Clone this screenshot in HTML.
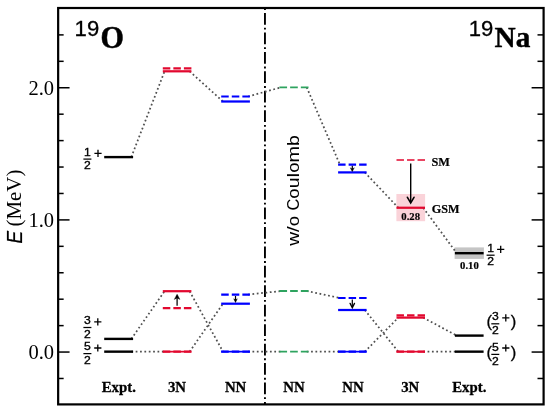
<!DOCTYPE html>
<html><head><meta charset="utf-8"><title>Level scheme</title>
<style>
html,body{margin:0;padding:0;background:#fff;}
body{width:550px;height:410px;overflow:hidden;font-family:"Liberation Sans",sans-serif;}
svg{display:block;will-change:transform;}
text{fill:#000;}
</style></head><body>
<svg width="550" height="410" viewBox="0 0 550 410">
<rect x="0" y="0" width="550" height="410" fill="#fff"/>
<rect x="58.15" y="8.0" width="485.45000000000005" height="396.4" fill="none" stroke="#000" stroke-width="2.2"/>
<line x1="58.15" y1="378.48" x2="63.65" y2="378.48" stroke="#000" stroke-width="1.5"/>
<line x1="543.6" y1="378.48" x2="537.5" y2="378.48" stroke="#000" stroke-width="1.5"/>
<line x1="58.15" y1="352.05" x2="69.55" y2="352.05" stroke="#000" stroke-width="1.5"/>
<line x1="543.6" y1="352.05" x2="531.6" y2="352.05" stroke="#000" stroke-width="1.5"/>
<line x1="58.15" y1="325.62" x2="63.65" y2="325.62" stroke="#000" stroke-width="1.5"/>
<line x1="543.6" y1="325.62" x2="537.5" y2="325.62" stroke="#000" stroke-width="1.5"/>
<line x1="58.15" y1="299.19" x2="63.65" y2="299.19" stroke="#000" stroke-width="1.5"/>
<line x1="543.6" y1="299.19" x2="537.5" y2="299.19" stroke="#000" stroke-width="1.5"/>
<line x1="58.15" y1="272.76" x2="63.65" y2="272.76" stroke="#000" stroke-width="1.5"/>
<line x1="543.6" y1="272.76" x2="537.5" y2="272.76" stroke="#000" stroke-width="1.5"/>
<line x1="58.15" y1="246.33" x2="63.65" y2="246.33" stroke="#000" stroke-width="1.5"/>
<line x1="543.6" y1="246.33" x2="537.5" y2="246.33" stroke="#000" stroke-width="1.5"/>
<line x1="58.15" y1="219.90" x2="69.55" y2="219.90" stroke="#000" stroke-width="1.5"/>
<line x1="543.6" y1="219.90" x2="531.6" y2="219.90" stroke="#000" stroke-width="1.5"/>
<line x1="58.15" y1="193.47" x2="63.65" y2="193.47" stroke="#000" stroke-width="1.5"/>
<line x1="543.6" y1="193.47" x2="537.5" y2="193.47" stroke="#000" stroke-width="1.5"/>
<line x1="58.15" y1="167.04" x2="63.65" y2="167.04" stroke="#000" stroke-width="1.5"/>
<line x1="543.6" y1="167.04" x2="537.5" y2="167.04" stroke="#000" stroke-width="1.5"/>
<line x1="58.15" y1="140.61" x2="63.65" y2="140.61" stroke="#000" stroke-width="1.5"/>
<line x1="543.6" y1="140.61" x2="537.5" y2="140.61" stroke="#000" stroke-width="1.5"/>
<line x1="58.15" y1="114.18" x2="63.65" y2="114.18" stroke="#000" stroke-width="1.5"/>
<line x1="543.6" y1="114.18" x2="537.5" y2="114.18" stroke="#000" stroke-width="1.5"/>
<line x1="58.15" y1="87.75" x2="69.55" y2="87.75" stroke="#000" stroke-width="1.5"/>
<line x1="543.6" y1="87.75" x2="531.6" y2="87.75" stroke="#000" stroke-width="1.5"/>
<line x1="58.15" y1="61.32" x2="63.65" y2="61.32" stroke="#000" stroke-width="1.5"/>
<line x1="543.6" y1="61.32" x2="537.5" y2="61.32" stroke="#000" stroke-width="1.5"/>
<line x1="58.15" y1="34.89" x2="63.65" y2="34.89" stroke="#000" stroke-width="1.5"/>
<line x1="543.6" y1="34.89" x2="537.5" y2="34.89" stroke="#000" stroke-width="1.5"/>
<text x="54" y="359.15" text-anchor="end" font-family="Liberation Serif" font-size="20.5">0.0</text>
<text x="54" y="227.00" text-anchor="end" font-family="Liberation Serif" font-size="20.5">1.0</text>
<text x="54" y="94.85" text-anchor="end" font-family="Liberation Serif" font-size="20.5">2.0</text>
<text transform="translate(21.9,243.4) rotate(-90) scale(0.87,1)" x="0" y="0" font-family="Liberation Sans" font-style="italic" font-size="21.7" stroke="#000" stroke-width="0.2">E</text>
<text transform="translate(21.4,226.5) rotate(-90)" x="0" y="0" font-family="Liberation Serif" font-size="20.9">(MeV)</text>
<line x1="264.95" y1="8.0" x2="264.95" y2="404.4" stroke="#000" stroke-width="1.9" stroke-dasharray="11.74 2.93 1.84 2.94" stroke-dashoffset="14.43"/>
<g transform="translate(298.8,245.8) rotate(-90)"><text x="0.00" y="0" font-family="Liberation Sans" font-size="17.4" textLength="13.87" lengthAdjust="spacingAndGlyphs">w</text><text x="13.87" y="0" font-family="Liberation Sans" font-size="17.4" textLength="5.71" lengthAdjust="spacingAndGlyphs">/</text><text x="19.58" y="0" font-family="Liberation Sans" font-size="17.4" textLength="10.37" lengthAdjust="spacingAndGlyphs">o</text><text x="35.34" y="0" font-family="Liberation Sans" font-size="17.4" textLength="11.83" lengthAdjust="spacingAndGlyphs">C</text><text x="47.17" y="0" font-family="Liberation Sans" font-size="17.4" textLength="10.37" lengthAdjust="spacingAndGlyphs">o</text><text x="57.55" y="0" font-family="Liberation Sans" font-size="17.4" textLength="10.75" lengthAdjust="spacingAndGlyphs">u</text><text x="68.29" y="0" font-family="Liberation Sans" font-size="17.4" textLength="4.71" lengthAdjust="spacingAndGlyphs">l</text><text x="73.00" y="0" font-family="Liberation Sans" font-size="17.4" textLength="10.37" lengthAdjust="spacingAndGlyphs">o</text><text x="83.38" y="0" font-family="Liberation Sans" font-size="17.4" textLength="16.51" lengthAdjust="spacingAndGlyphs">m</text><text x="99.89" y="0" font-family="Liberation Sans" font-size="17.4" textLength="10.76" lengthAdjust="spacingAndGlyphs">b</text></g>
<rect x="396.4" y="194.0" width="28.7" height="27.2" fill="#fad3d9"/>
<rect x="454.59999999999997" y="247.4" width="29.300000000000047" height="11.5" fill="#c5c5c5"/>
<line x1="131.30" y1="157.10" x2="164.60" y2="71.30" stroke="#505050" stroke-width="1.75" stroke-dasharray="1.75 2.506"/>
<line x1="189.60" y1="71.30" x2="223.00" y2="101.50" stroke="#505050" stroke-width="1.75" stroke-dasharray="1.75 2.559"/>
<line x1="248.10" y1="96.50" x2="281.20" y2="87.30" stroke="#505050" stroke-width="1.75" stroke-dasharray="1.75 2.608"/>
<line x1="306.70" y1="87.30" x2="339.90" y2="164.60" stroke="#505050" stroke-width="1.75" stroke-dasharray="1.75 2.509"/>
<line x1="364.80" y1="172.40" x2="398.30" y2="207.75" stroke="#505050" stroke-width="1.75" stroke-dasharray="1.75 2.549"/>
<line x1="423.20" y1="207.75" x2="456.70" y2="253.20" stroke="#505050" stroke-width="1.75" stroke-dasharray="1.75 2.534"/>
<line x1="131.30" y1="338.90" x2="164.60" y2="291.20" stroke="#505050" stroke-width="1.75" stroke-dasharray="1.75 2.530"/>
<line x1="189.60" y1="291.20" x2="223.00" y2="351.65" stroke="#505050" stroke-width="1.75" stroke-dasharray="1.75 2.519"/>
<line x1="189.60" y1="351.65" x2="223.00" y2="303.70" stroke="#505050" stroke-width="1.75" stroke-dasharray="1.75 2.530"/>
<line x1="248.10" y1="294.60" x2="281.20" y2="291.00" stroke="#505050" stroke-width="1.75" stroke-dasharray="1.75 2.616"/>
<line x1="306.70" y1="291.00" x2="339.90" y2="298.00" stroke="#505050" stroke-width="1.75" stroke-dasharray="1.75 2.612"/>
<line x1="364.80" y1="310.00" x2="398.30" y2="351.65" stroke="#505050" stroke-width="1.75" stroke-dasharray="1.75 2.539"/>
<line x1="364.80" y1="351.65" x2="398.30" y2="317.60" stroke="#505050" stroke-width="1.75" stroke-dasharray="1.75 2.551"/>
<line x1="423.20" y1="317.60" x2="456.70" y2="335.60" stroke="#505050" stroke-width="1.75" stroke-dasharray="1.75 2.588"/>
<line x1="131.30" y1="351.65" x2="164.60" y2="351.65" stroke="#505050" stroke-width="1.75" stroke-dasharray="1.75 2.617"/>
<line x1="248.10" y1="351.65" x2="281.20" y2="351.65" stroke="#505050" stroke-width="1.75" stroke-dasharray="1.75 2.617"/>
<line x1="306.70" y1="351.65" x2="339.90" y2="351.65" stroke="#505050" stroke-width="1.75" stroke-dasharray="1.75 2.617"/>
<line x1="423.20" y1="351.65" x2="456.70" y2="351.65" stroke="#505050" stroke-width="1.75" stroke-dasharray="1.75 2.617"/>
<line x1="104.2" y1="157.10" x2="133.1" y2="157.10" stroke="#000" stroke-width="2.4"/>
<line x1="104.2" y1="338.90" x2="133.1" y2="338.90" stroke="#000" stroke-width="2.4"/>
<line x1="104.2" y1="351.65" x2="133.1" y2="351.65" stroke="#000" stroke-width="2.4"/>
<line x1="454.9" y1="253.20" x2="483.6" y2="253.20" stroke="#000" stroke-width="2.4"/>
<line x1="454.9" y1="335.60" x2="483.6" y2="335.60" stroke="#000" stroke-width="2.4"/>
<line x1="454.9" y1="351.65" x2="483.6" y2="351.65" stroke="#000" stroke-width="2.4"/>
<line x1="162.8" y1="71.30" x2="191.4" y2="71.30" stroke="#e2082f" stroke-width="2.25"/>
<line x1="162.8" y1="68.40" x2="191.4" y2="68.40" stroke="#e2082f" stroke-width="2.2" stroke-dasharray="7.50 3.05"/>
<line x1="221.2" y1="101.50" x2="249.9" y2="101.50" stroke="#0000ff" stroke-width="2.25"/>
<line x1="221.2" y1="96.50" x2="249.9" y2="96.50" stroke="#0000ff" stroke-width="2.2" stroke-dasharray="7.53 3.05"/>
<line x1="279.4" y1="87.30" x2="308.5" y2="87.30" stroke="#2ea35f" stroke-width="1.85" stroke-dasharray="7.67 3.05"/>
<line x1="338.1" y1="164.60" x2="366.6" y2="164.60" stroke="#0000ff" stroke-width="2.2" stroke-dasharray="7.47 3.05"/>
<line x1="338.1" y1="172.40" x2="366.6" y2="172.40" stroke="#0000ff" stroke-width="2.25"/>
<line x1="396.5" y1="160.00" x2="425.0" y2="160.00" stroke="#e2082f" stroke-width="1.5" stroke-dasharray="7.47 3.05"/>
<line x1="396.5" y1="207.75" x2="425.0" y2="207.75" stroke="#e2082f" stroke-width="2.25"/>
<line x1="162.8" y1="291.20" x2="191.4" y2="291.20" stroke="#e2082f" stroke-width="2.25"/>
<line x1="162.8" y1="308.10" x2="191.4" y2="308.10" stroke="#e2082f" stroke-width="2.2" stroke-dasharray="7.50 3.05"/>
<line x1="221.2" y1="294.60" x2="249.9" y2="294.60" stroke="#0000ff" stroke-width="2.2" stroke-dasharray="7.53 3.05"/>
<line x1="221.2" y1="303.70" x2="249.9" y2="303.70" stroke="#0000ff" stroke-width="2.25"/>
<line x1="279.4" y1="291.00" x2="308.5" y2="291.00" stroke="#2ea35f" stroke-width="1.85" stroke-dasharray="7.67 3.05"/>
<line x1="338.1" y1="298.00" x2="366.6" y2="298.00" stroke="#0000ff" stroke-width="2.2" stroke-dasharray="7.47 3.05"/>
<line x1="338.1" y1="310.00" x2="366.6" y2="310.00" stroke="#0000ff" stroke-width="2.25"/>
<line x1="396.5" y1="317.60" x2="425.0" y2="317.60" stroke="#e2082f" stroke-width="2.25"/>
<line x1="396.5" y1="315.30" x2="425.0" y2="315.30" stroke="#e2082f" stroke-width="2.2" stroke-dasharray="7.47 3.05"/>
<line x1="279.4" y1="351.65" x2="308.5" y2="351.65" stroke="#2ea35f" stroke-width="1.85" stroke-dasharray="7.67 3.05"/>
<line x1="162.8" y1="351.65" x2="191.4" y2="351.65" stroke="#e2082f" stroke-width="1.7"/>
<line x1="162.8" y1="351.65" x2="191.4" y2="351.65" stroke="#e2082f" stroke-width="2.1" stroke-dasharray="7.50 3.05"/>
<line x1="221.2" y1="351.65" x2="249.9" y2="351.65" stroke="#0000ff" stroke-width="1.7"/>
<line x1="221.2" y1="351.65" x2="249.9" y2="351.65" stroke="#0000ff" stroke-width="2.1" stroke-dasharray="7.53 3.05"/>
<line x1="338.1" y1="351.65" x2="366.6" y2="351.65" stroke="#0000ff" stroke-width="1.7"/>
<line x1="338.1" y1="351.65" x2="366.6" y2="351.65" stroke="#0000ff" stroke-width="2.1" stroke-dasharray="7.47 3.05"/>
<line x1="396.5" y1="351.65" x2="425.0" y2="351.65" stroke="#e2082f" stroke-width="1.7"/>
<line x1="396.5" y1="351.65" x2="425.0" y2="351.65" stroke="#e2082f" stroke-width="2.1" stroke-dasharray="7.47 3.05"/>
<path d="M410.7 163.5 L410.7 202.1" fill="none" stroke="#000" stroke-width="1.4"/>
<path d="M407.4 197.3 L410.7 202.9 L414.0 197.3" fill="none" stroke="#000" stroke-width="1.60" stroke-linejoin="miter" stroke-linecap="round"/>
<path d="M177.1 305.8 L177.1 295.4" fill="none" stroke="#000" stroke-width="1.25"/>
<path d="M177.1 294.2 L174.29999999999998 299.4 L177.1 297.90 L179.9 299.4 Z" fill="#000" stroke="#000" stroke-width="0.4" stroke-linejoin="round"/>
<path d="M235.5 296.0 L235.5 301.3" fill="none" stroke="#000" stroke-width="1.2"/>
<path d="M235.5 302.5 L233.7 298.8 L235.5 299.85 L237.3 298.8 Z" fill="#000" stroke="#000" stroke-width="0.4" stroke-linejoin="round"/>
<path d="M352.3 299.6 L352.3 307.0" fill="none" stroke="#000" stroke-width="1.2"/>
<path d="M350.1 303.40000000000003 L352.3 307.8 L354.5 303.40000000000003" fill="none" stroke="#000" stroke-width="1.30" stroke-linejoin="miter" stroke-linecap="round"/>
<path d="M352.3 165.8 L352.3 170.4" fill="none" stroke="#000" stroke-width="1.2"/>
<path d="M352.3 171.6 L350.3 167.8 L352.3 168.88 L354.3 167.8 Z" fill="#000" stroke="#000" stroke-width="0.4" stroke-linejoin="round"/>
<text x="118.8" y="391.5" text-anchor="middle" font-family="Liberation Serif" font-weight="bold" font-size="14.8" stroke="#000" stroke-width="0.3" >Expt.</text>
<text x="177" y="391.5" text-anchor="middle" font-family="Liberation Serif" font-weight="bold" font-size="14.8" stroke="#000" stroke-width="0.3" >3N</text>
<text x="235.6" y="391.5" text-anchor="middle" font-family="Liberation Serif" font-weight="bold" font-size="14.8" stroke="#000" stroke-width="0.3" >NN</text>
<text x="294" y="391.5" text-anchor="middle" font-family="Liberation Serif" font-weight="bold" font-size="14.8" stroke="#000" stroke-width="0.3" >NN</text>
<text x="353" y="391.5" text-anchor="middle" font-family="Liberation Serif" font-weight="bold" font-size="14.8" stroke="#000" stroke-width="0.3" >NN</text>
<text x="410.2" y="391.5" text-anchor="middle" font-family="Liberation Serif" font-weight="bold" font-size="14.8" stroke="#000" stroke-width="0.3" >3N</text>
<text x="469.3" y="391.5" text-anchor="middle" font-family="Liberation Serif" font-weight="bold" font-size="14.8" stroke="#000" stroke-width="0.3" >Expt.</text>
<text x="431.5" y="165.6" text-anchor="start" font-family="Liberation Serif" font-weight="bold" font-size="12.3" stroke="#000" stroke-width="0.2" >SM</text>
<text x="431.8" y="213.35" text-anchor="start" font-family="Liberation Serif" font-weight="bold" font-size="12.2" stroke="#000" stroke-width="0.2" >GSM</text>
<text x="410.7" y="219.7" text-anchor="middle" font-family="Liberation Serif" font-weight="bold" font-size="11.2" stroke="#000" stroke-width="0.2" textLength="18.7" lengthAdjust="spacingAndGlyphs">0.28</text>
<text x="469.4" y="269.0" text-anchor="middle" font-family="Liberation Serif" font-weight="bold" font-size="11.2" stroke="#000" stroke-width="0.2" textLength="18.7" lengthAdjust="spacingAndGlyphs">0.10</text>
<text x="74.6" y="36" font-family="Liberation Sans" font-size="22" stroke="#000" stroke-width="0.3" textLength="24.6" lengthAdjust="spacingAndGlyphs">19</text>
<text x="100.6" y="47.8" text-anchor="start" font-family="Liberation Serif" font-weight="bold" font-size="30.5" stroke="#000" stroke-width="0.5" textLength="23.4" lengthAdjust="spacingAndGlyphs">O</text>
<text x="468.8" y="36" font-family="Liberation Sans" font-size="22" stroke="#000" stroke-width="0.3" textLength="24.6" lengthAdjust="spacingAndGlyphs">19</text>
<text x="494.6" y="47.4" text-anchor="start" font-family="Liberation Serif" font-weight="bold" font-size="30" stroke="#000" stroke-width="0.4" textLength="35.8" lengthAdjust="spacingAndGlyphs">Na</text>
<text transform="translate(87.40,155.60) scale(1.03,1)" x="0" y="0" text-anchor="middle" font-family="Liberation Sans" font-size="11.8" stroke="#000" stroke-width="0.35">1</text>
<line x1="83.4" y1="159.1" x2="91.39999999999999" y2="159.1" stroke="#000" stroke-width="1.25"/>
<text transform="translate(87.40,169.25) scale(1.03,1)" x="0" y="0" text-anchor="middle" font-family="Liberation Sans" font-size="11.8" stroke="#000" stroke-width="0.35">2</text>
<path d="M94.4 153.3 L101.6 153.3 M98.0 149.70000000000002 L98.0 156.9" stroke="#000" stroke-width="1.3" fill="none"/>
<text transform="translate(87.40,324.00) scale(1.03,1)" x="0" y="0" text-anchor="middle" font-family="Liberation Sans" font-size="11.8" stroke="#000" stroke-width="0.35">3</text>
<line x1="83.4" y1="327.5" x2="91.39999999999999" y2="327.5" stroke="#000" stroke-width="1.25"/>
<text transform="translate(87.40,337.65) scale(1.03,1)" x="0" y="0" text-anchor="middle" font-family="Liberation Sans" font-size="11.8" stroke="#000" stroke-width="0.35">2</text>
<path d="M94.2 321.8 L101.39999999999999 321.8 M97.8 318.2 L97.8 325.40000000000003" stroke="#000" stroke-width="1.3" fill="none"/>
<text transform="translate(87.40,350.10) scale(1.03,1)" x="0" y="0" text-anchor="middle" font-family="Liberation Sans" font-size="11.8" stroke="#000" stroke-width="0.35">5</text>
<line x1="83.4" y1="353.6" x2="91.39999999999999" y2="353.6" stroke="#000" stroke-width="1.25"/>
<text transform="translate(87.40,363.75) scale(1.03,1)" x="0" y="0" text-anchor="middle" font-family="Liberation Sans" font-size="11.8" stroke="#000" stroke-width="0.35">2</text>
<path d="M94.2 348.0 L101.39999999999999 348.0 M97.8 344.4 L97.8 351.6" stroke="#000" stroke-width="1.3" fill="none"/>
<text transform="translate(490.60,251.70) scale(1.03,1)" x="0" y="0" text-anchor="middle" font-family="Liberation Sans" font-size="11.8" stroke="#000" stroke-width="0.35">1</text>
<line x1="486.59999999999997" y1="255.2" x2="494.6" y2="255.2" stroke="#000" stroke-width="1.25"/>
<text transform="translate(490.60,265.35) scale(1.03,1)" x="0" y="0" text-anchor="middle" font-family="Liberation Sans" font-size="11.8" stroke="#000" stroke-width="0.35">2</text>
<path d="M497.09999999999997 249.3 L504.3 249.3 M500.7 245.70000000000002 L500.7 252.9" stroke="#000" stroke-width="1.3" fill="none"/>
<text transform="translate(495.30,320.30) scale(1.03,1)" x="0" y="0" text-anchor="middle" font-family="Liberation Sans" font-size="11.8" stroke="#000" stroke-width="0.35">3</text>
<line x1="491.29999999999995" y1="323.8" x2="499.3" y2="323.8" stroke="#000" stroke-width="1.25"/>
<text transform="translate(495.30,333.95) scale(1.03,1)" x="0" y="0" text-anchor="middle" font-family="Liberation Sans" font-size="11.8" stroke="#000" stroke-width="0.35">2</text>
<path d="M502.2 317.8 L509.40000000000003 317.8 M505.8 314.2 L505.8 321.40000000000003" stroke="#000" stroke-width="1.3" fill="none"/>
<text transform="translate(495.30,350.90) scale(1.03,1)" x="0" y="0" text-anchor="middle" font-family="Liberation Sans" font-size="11.8" stroke="#000" stroke-width="0.35">5</text>
<line x1="491.29999999999995" y1="354.4" x2="499.3" y2="354.4" stroke="#000" stroke-width="1.25"/>
<text transform="translate(495.30,364.55) scale(1.03,1)" x="0" y="0" text-anchor="middle" font-family="Liberation Sans" font-size="11.8" stroke="#000" stroke-width="0.35">2</text>
<path d="M502.2 348.0 L509.40000000000003 348.0 M505.8 344.4 L505.8 351.6" stroke="#000" stroke-width="1.3" fill="none"/>
<text x="489.2" y="327.2" font-family="Liberation Sans" font-size="16.6" text-anchor="middle" stroke="#000" stroke-width="0.3">(</text>
<text x="513.6" y="327.2" font-family="Liberation Sans" font-size="16.6" text-anchor="middle" stroke="#000" stroke-width="0.3">)</text>
<text x="489.2" y="357.9" font-family="Liberation Sans" font-size="16.6" text-anchor="middle" stroke="#000" stroke-width="0.3">(</text>
<text x="513.6" y="357.9" font-family="Liberation Sans" font-size="16.6" text-anchor="middle" stroke="#000" stroke-width="0.3">)</text>
</svg>
</body></html>
